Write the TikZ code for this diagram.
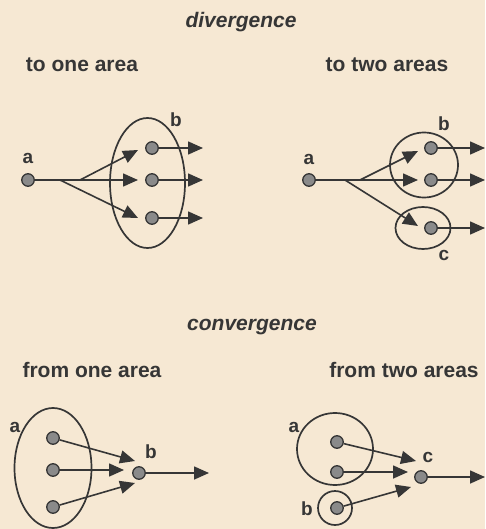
\documentclass[tikz,border=0pt]{standalone}
\usepackage{fontspec}
\setmainfont{Liberation Sans}
\usetikzlibrary{arrows.meta,shapes.geometric}
\definecolor{bg}{HTML}{F6E8D3}
\definecolor{ink}{HTML}{363636}
\definecolor{dotfill}{HTML}{8A8A8A}
\begin{document}
\begin{tikzpicture}[x=1pt,y=-1pt,
  dot/.style={circle, draw=ink, fill=dotfill, line width=1.3pt, minimum size=12.5pt, inner sep=0pt},
  arr/.style={draw=ink, line width=1.6pt, -{Triangle[length=15pt,width=13pt]}},
  area/.style={draw=ink, line width=1.7pt, ellipse, inner sep=0pt},
  lab/.style={font=\bfseries\fontsize{19}{19}\selectfont, text=ink, inner sep=0pt},
  ttl/.style={font=\bfseries\fontsize{21}{21}\selectfont, text=ink, inner sep=0pt},
  ttli/.style={font=\bfseries\itshape\fontsize{21}{21}\selectfont, text=ink, inner sep=0pt}]
\fill[bg] (0,0) rectangle (485,529);
\useasboundingbox (0,0) rectangle (485,529);

% titles
\node[ttli] (tdiv) at (241,22) {divergence};
\node[ttl] (t1) at (82,65) {to one area};
\node[ttl] (t2) at (387,65) {to two areas};
\node[ttli] (tconv) at (252,327) {convergence};
\node[ttl] (t3) at (92,370) {from one area};
\node[ttl] (t4) at (404,370) {from two areas};

% ---------- divergence: to one area ----------
\node[area, minimum width=75pt, minimum height=130pt] (B1area) at (147.5,183) {};
\node[dot] (a1) at (28,180) {};
\node[lab] (a1l) at (28,158) {a};
\node[dot] (b11) at (152,148) {};
\node[dot] (b12) at (152,180) {};
\node[dot] (b13) at (152,218) {};
\node[lab] (b1l) at (176,120) {b};
\coordinate (s11) at (60,180);
\coordinate (s12) at (80,180);
\coordinate (e11) at (138,150);
\coordinate (e12) at (138,180);
\coordinate (e13) at (138,218);
\draw[arr] (a1) -- (e12);
\draw[arr] (s12) -- (e11);
\draw[arr] (s11) -- (e13);
\coordinate (o11) at (203,148);
\coordinate (o12) at (203,180);
\coordinate (o13) at (203,218);
\draw[arr] (b11) -- (o11);
\draw[arr] (b12) -- (o12);
\draw[arr] (b13) -- (o13);

% ---------- divergence: to two areas ----------
\node[area, minimum width=68pt, minimum height=65pt] (B2area) at (424,165) {};
\node[area, minimum width=55pt, minimum height=42pt] (C2area) at (423,228) {};
\node[dot] (a2) at (309,180) {};
\node[lab] (a2l) at (309,159) {a};
\node[dot] (b21) at (431,148) {};
\node[dot] (b22) at (431,180) {};
\node[dot] (c21) at (431,228) {};
\node[lab] (b2l) at (444,124) {b};
\node[lab] (c2l) at (444,255) {c};
\coordinate (s21) at (345,180);
\coordinate (s22) at (360,180);
\coordinate (e21) at (418,151);
\coordinate (e22) at (418,180);
\coordinate (e23) at (418,226);
\draw[arr] (a2) -- (e22);
\draw[arr] (s22) -- (e21);
\draw[arr] (s21) -- (e23);
\coordinate (o21) at (485,148);
\coordinate (o22) at (485,180);
\coordinate (o23) at (485,228);
\draw[arr] (b21) -- (o21);
\draw[arr] (b22) -- (o22);
\draw[arr] (c21) -- (o23);

% ---------- convergence: from one area ----------
\node[area, minimum width=77pt, minimum height=120pt] (A3area) at (53,468) {};
\node[lab] (a3l) at (15,427) {a};
\node[dot] (a31) at (53,438) {};
\node[dot] (a32) at (53,470) {};
\node[dot] (a33) at (53,507) {};
\node[dot] (b3) at (139,473) {};
\node[lab] (b3l) at (151,452) {b};
\coordinate (e31) at (135,461);
\coordinate (e32) at (124,470);
\coordinate (e33) at (135,483);
\draw[arr] (a31) -- (e31);
\draw[arr] (a32) -- (e32);
\draw[arr] (a33) -- (e33);
\coordinate (o3) at (209,473);
\draw[arr] (b3) -- (o3);

% ---------- convergence: from two areas ----------
\node[area, minimum width=76pt, minimum height=72pt] (A4area) at (335,449) {};
\node[area, minimum width=34pt, minimum height=34pt] (B4area) at (335,508) {};
\node[lab] (a4l) at (294,427) {a};
\node[lab] (b4l) at (307,509) {b};
\node[dot] (a41) at (337,442) {};
\node[dot] (a42) at (337,472) {};
\node[dot] (b4) at (337,508) {};
\node[dot] (c4) at (421,477) {};
\node[lab] (c4l) at (428,457) {c};
\coordinate (e41) at (416,461);
\coordinate (e42) at (408,472);
\coordinate (e43) at (411,487);
\draw[arr] (a41) -- (e41);
\draw[arr] (a42) -- (e42);
\draw[arr] (b4) -- (e43);
\coordinate (o4) at (485,477);
\draw[arr] (c4) -- (o4);
\end{tikzpicture}
\end{document}
